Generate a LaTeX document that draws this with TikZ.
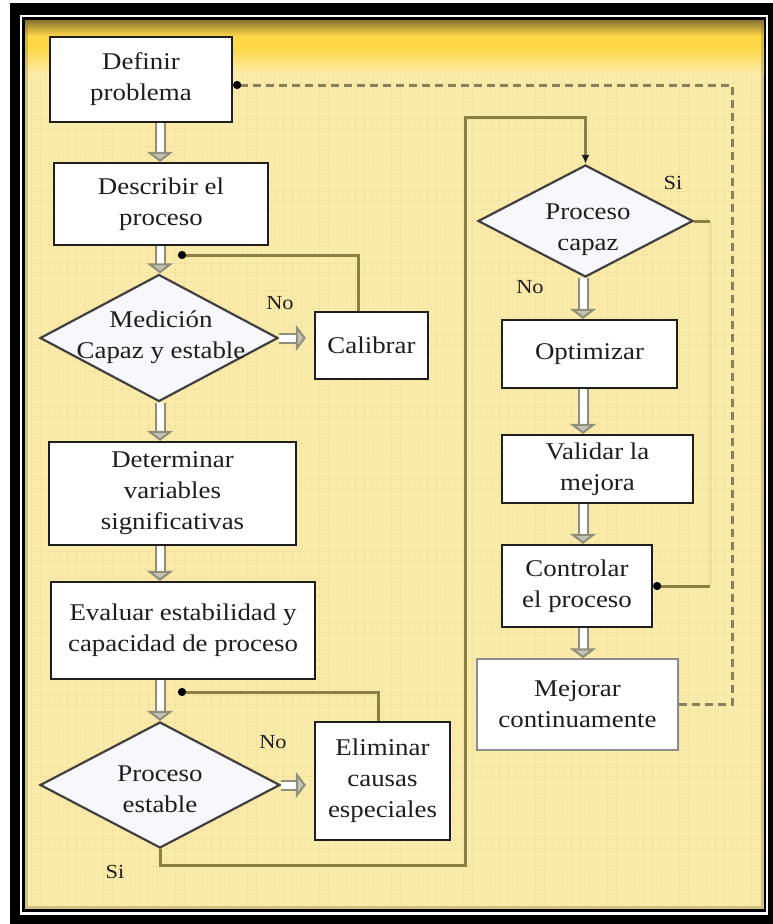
\documentclass[tikz,border=0pt]{standalone}
\usepackage{fontspec}
\setmainfont{Liberation Serif}[FakeStretch=1.12]
\usetikzlibrary{arrows.meta,shapes.geometric,calc}

\definecolor{paper}{HTML}{FBEBAA}
\definecolor{bandyel}{HTML}{FFD848}
\definecolor{banddark}{HTML}{8A7430}
\definecolor{gridc}{HTML}{E8D08A}
\definecolor{olive}{HTML}{8C7F45}
\definecolor{dashc}{HTML}{8A805E}
\definecolor{ink}{HTML}{1E1E1E}
\definecolor{arrgray}{HTML}{8E8E7A}
\definecolor{diafill}{HTML}{F7F7FC}

\begin{document}
\begin{tikzpicture}[x=1pt,y=-1pt,
  txt/.style={font=\fontsize{24}{31}\selectfont, text=ink, align=center},
  lbl/.style={font=\fontsize{20}{24}\selectfont, text=ink},
  box/.style={txt, draw=ink, line width=2.2pt, fill=white, inner sep=2pt},
  softbox/.style={box, draw=black!45, line width=1.4pt},
  dia/.style={diamond, draw=ink!85, line width=2.2pt, fill=diafill, inner sep=0pt},
  blockarrow/.style={draw=arrgray, line width=2pt, double=white, double distance=7pt,
    -{Triangle[width=26pt, length=10pt, fill=arrgray!55]}},
  fb/.style={draw=olive, line width=3pt},
  dashfb/.style={draw=dashc, line width=3pt, dash pattern=on 8pt off 5pt},
  dot/.style={-{Circle[length=8pt, width=8pt, color=black]}},
]
\useasboundingbox (0,0) rectangle (773,924);

% page, double frame and paper
\fill[white] (0,0) rectangle (773,924);
\fill[black] (10,3) rectangle (780,930);
\fill[white] (20,15) rectangle (768,915);
\fill[black] (22,17) rectangle (766,912);
\fill[paper] (25,20) rectangle (764,909);

% faint grid on the paper
\foreach \gx in {31,40,...,760} \draw[gridc, line width=0.4pt, opacity=0.28] (\gx,20) -- (\gx,909);
\foreach \gy in {74,83,...,905} \draw[gridc, line width=0.4pt, opacity=0.28] (25,\gy) -- (764,\gy);

% bright band along the top edge
\shade[top color=banddark, bottom color=bandyel] (25,20) rectangle (764,36);
\fill[bandyel] (25,36) rectangle (764,48);
\shade[top color=bandyel, bottom color=paper] (25,48) rectangle (764,74);

% inner shadow of the frame
\draw[banddark, line width=3pt, opacity=0.35] (26.5,21.5) rectangle (762.5,907.5);

% column guides
\coordinate (colL) at (160,0);
\coordinate (colR) at (583,0);

% left column
\node[box, minimum width=182, minimum height=85] (def) at (141,79.5) {Definir\\problema};
\node[box, minimum width=214, minimum height=82] (desc) at (161,204) {Describir el\\proceso};
\node[dia, minimum width=238, minimum height=127] (d1) at (159,338) {};
\node[txt] (d1t) at (161,337) {Medición\\Capaz y estable};
\node[box, minimum width=113, minimum height=67] (cal) at (371.5,345.5) {Calibrar};
\node[box, minimum width=247, minimum height=103] (det) at (172.5,493.5) {Determinar\\variables\\significativas};
\node[box, minimum width=264, minimum height=97] (eval) at (183,630.5) {Evaluar estabilidad y\\capacidad de proceso};
\node[dia, minimum width=240, minimum height=126] (d2) at (160,785) {};
\node[txt] (d2t) at (160,789) {Proceso\\estable};
\node[box, minimum width=135, minimum height=118] (elim) at (382.5,781) {Eliminar\\causas\\especiales};

% right column
\node[dia, minimum width=215, minimum height=112] (d3) at (585.5,221) {};
\node[txt] (d3t) at (588,230) {Proceso\\capaz};
\node[box, minimum width=175, minimum height=68] (opt) at (589.5,354) {Optimizar};
\node[box, minimum width=191, minimum height=68] (val) at (597.5,469) {Validar la\\mejora};
\node[box, minimum width=150, minimum height=82] (ctrl) at (577,586) {Controlar\\el proceso};
\node[softbox, minimum width=201, minimum height=91] (mej) at (577.5,704.5) {Mejorar\\continuamente};

% decision labels
\node[lbl] (no1) at (280,303) {No};
\node[lbl] (no2) at (273,742) {No};
\node[lbl] (si1) at (115,872) {Si};
\node[lbl] (si2) at (673,183) {Si};
\node[lbl] (no3) at (530,287) {No};

% main flow, hollow block arrows
\draw[blockarrow] (def.south -| colL) -- (desc.north -| colL);
\draw[blockarrow] (desc.south -| colL) -- (d1.north -| colL);
\draw[blockarrow] (d1.south -| colL) -- (det.north -| colL);
\draw[blockarrow] (det.south -| colL) -- (eval.north -| colL);
\draw[blockarrow] (eval.south -| colL) -- (d2.north -| colL);
\draw[blockarrow] (d1.east) -- ([xshift=-8pt]cal.west |- d1.east);
\draw[blockarrow] (d2.east) -- ([xshift=-8pt]elim.west |- d2.east);
\draw[blockarrow] (d3.south -| colR) -- (opt.north -| colR);
\draw[blockarrow] (opt.south -| colR) -- (val.north -| colR);
\draw[blockarrow] (val.south -| colR) -- (ctrl.north -| colR);
\draw[blockarrow] (ctrl.south -| colR) -- (mej.north -| colR);

% return loops
\coordinate (j1) at (178,255);
\coordinate (j2) at (178,692);
\draw[fb, dot] ([xshift=-13.5pt]cal.north) |- (j1);
\draw[fb, dot] ([xshift=-4.5pt]elim.north) |- (j2);

% stable process goes on to the capability check
\coordinate (c1) at (465,865);
\coordinate (c2) at (465,117);
\draw[fb, -{Latex[length=9pt, width=8pt, color=ink]}] (d2.south) |- (c1) -- (c2) -| (d3.north);

% capable process goes straight to control
\coordinate (c3) at (710,221);
\coordinate (c4) at (ctrl.east -| c3);
\draw[fb] (d3.east) -- (c3);
\draw[fb, opacity=0.1] (c3) -- (c4);
\draw[fb, dot] (c4) -- (ctrl.east);

% continuous improvement back to the start
\coordinate (c6) at (732,85);
\coordinate (c5) at (mej.east -| c6);
\draw[dashfb, dot] (mej.east) -- (c5) -- (c6) -- ([yshift=-5.5pt]def.east);
\end{tikzpicture}
\end{document}
